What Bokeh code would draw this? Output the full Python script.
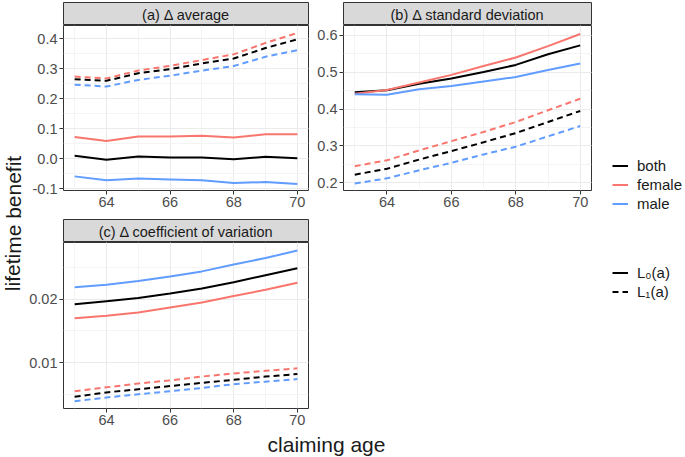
from bokeh.plotting import figure
from bokeh.models import (Range1d, SingleIntervalTicker, PrintfTickFormatter, Legend,
                          LegendItem, GridPlot)
from bokeh.layouts import row, column
from bokeh.core.properties import value
from bokeh.embed import file_html
from bokeh.resources import INLINE

FONT = "Liberation Sans"
NAN = float("nan")

# ---------------- data ----------------
ages = [63, 64, 65, 66, 67, 68, 69, 70]
groups = ["both", "female", "male"]
group_colors = ["#000000", "#F8766D", "#619CFF"]
ltype_labels = ["L\u2080(a)", "L\u2081(a)"]
strip_labels = ["(a) \u0394 average", "(b) \u0394 standard deviation",
                "(c) \u0394 coefficient of variation"]
x_label = "claiming age"
y_label = "lifetime benefit"

avg_L0_both = [0.011, -0.003, 0.008, 0.005, 0.005, -0.001, 0.007, 0.002]
avg_L0_female = [0.073, 0.060, 0.075, 0.075, 0.077, 0.071, 0.082, 0.082]
avg_L0_male = [-0.058, -0.071, -0.065, -0.068, -0.071, -0.080, -0.077, -0.083]
avg_L1_both = [0.265, 0.260, 0.285, 0.299, 0.318, 0.334, 0.369, 0.398]
avg_L1_female = [0.274, 0.268, 0.294, 0.310, 0.329, 0.348, 0.386, 0.419]
avg_L1_male = [0.247, 0.241, 0.263, 0.277, 0.294, 0.309, 0.340, 0.362]

sd_L0_both = [0.446, 0.451, 0.469, 0.483, 0.501, 0.520, 0.549, 0.573]
sd_L0_female = [0.442, 0.452, 0.472, 0.493, 0.517, 0.540, 0.571, 0.604]
sd_L0_male = [0.440, 0.439, 0.454, 0.463, 0.475, 0.487, 0.506, 0.524]
sd_L1_both = [0.222, 0.238, 0.263, 0.286, 0.310, 0.335, 0.365, 0.395]
sd_L1_female = [0.245, 0.261, 0.288, 0.313, 0.338, 0.365, 0.397, 0.428]
sd_L1_male = [0.198, 0.212, 0.234, 0.254, 0.277, 0.298, 0.326, 0.354]

cv_L0_both = [0.0192, 0.0197, 0.0202, 0.0209, 0.0217, 0.0227, 0.0238, 0.0249]
cv_L0_female = [0.0170, 0.0174, 0.0179, 0.0187, 0.0195, 0.0205, 0.0215, 0.0226]
cv_L0_male = [0.0219, 0.0223, 0.0229, 0.0236, 0.0244, 0.0255, 0.0265, 0.0277]
cv_L1_both = [0.0046, 0.0053, 0.0058, 0.0063, 0.0068, 0.0073, 0.0078, 0.0082]
cv_L1_female = [0.0055, 0.0061, 0.0067, 0.0072, 0.0078, 0.0083, 0.0087, 0.0091]
cv_L1_male = [0.0039, 0.0045, 0.0050, 0.0055, 0.0060, 0.0066, 0.0070, 0.0074]

# ---------------- layout constants ----------------
W0, W1, W2, W3 = 26, 288, 286, 84
STRIP_H = 25
ROW1_H, ROW3_H = 192, 190
XLAB_H = 24
TOTAL_H = STRIP_H + ROW1_H + STRIP_H + ROW3_H + XLAB_H
L1_LEFT, L1_RIGHT = 35, 6
L2_LEFT, L2_RIGHT = 29, 9
DASH = "6 4"
LW = 2


def panel(width, mbl, mbr, height, mbb, yr, yint, fmt):
    p = figure(width=width, height=height, x_range=Range1d(62.65, 70.35),
               y_range=Range1d(*yr), output_backend="svg", toolbar_location=None,
               min_border_left=mbl, min_border_right=mbr, min_border_top=0,
               min_border_bottom=mbb)
    p.outline_line_color = "#333333"
    p.outline_line_width = 1
    xt = SingleIntervalTicker(interval=2, num_minor_ticks=2)
    yt = SingleIntervalTicker(interval=yint, num_minor_ticks=2)
    p.xaxis.ticker = xt
    p.yaxis.ticker = yt
    p.xgrid.ticker = xt
    p.ygrid.ticker = yt
    p.yaxis.formatter = PrintfTickFormatter(format=fmt)
    for ax in (p.xaxis, p.yaxis):
        ax.axis_line_color = None
        ax.major_tick_line_color = "#333333"
        ax.major_tick_out = 4
        ax.major_tick_in = 0
        ax.minor_tick_line_color = None
        ax.major_label_standoff = 2
        ax.major_label_text_font = FONT
        ax.major_label_text_font_size = "14.5px"
        ax.major_label_text_color = "#4D4D4D"
    for g in (p.xgrid, p.ygrid):
        g.grid_line_color = "#EBEBEB"
        g.grid_line_width = 1.1
        g.minor_grid_line_color = "#F3F3F3"
        g.minor_grid_line_width = 0.9
    return p


def strip(text, width, mbl, mbr):
    s = figure(width=width, height=STRIP_H, x_range=Range1d(0, 1), y_range=Range1d(0, 1),
               x_axis_type=None, y_axis_type=None, output_backend="svg",
               toolbar_location=None, min_border_left=mbl, min_border_right=mbr,
               min_border_top=2, min_border_bottom=0)
    s.background_fill_color = "#D9D9D9"
    s.outline_line_color = "#333333"
    s.text(x=[0.5], y=[0.47], text=[text], text_align="center", text_baseline="middle",
           text_font=value(FONT), text_font_size="14.5px", text_color="#1A1A1A")
    return s


def draw(p, l0, l1):
    for ys, c in zip(l0, group_colors):
        p.line(ages, ys, line_color=c, line_width=LW)
    for ys, c in zip(l1, group_colors):
        p.line(ages, ys, line_color=c, line_width=LW, line_dash=DASH)


fa = panel(W1, L1_LEFT, L1_RIGHT, ROW1_H, 27, (-0.105, 0.444), 0.1, "%.1f")
draw(fa, [avg_L0_both, avg_L0_female, avg_L0_male], [avg_L1_both, avg_L1_female, avg_L1_male])
fb = panel(W2, L2_LEFT, L2_RIGHT, ROW1_H, 27, (0.179, 0.627), 0.1, "%.1f")
draw(fb, [sd_L0_both, sd_L0_female, sd_L0_male], [sd_L1_both, sd_L1_female, sd_L1_male])
fc = panel(W1, L1_LEFT, L1_RIGHT, ROW3_H, 24, (0.00276, 0.02896), 0.01, "%.2f")
draw(fc, [cv_L0_both, cv_L0_female, cv_L0_male], [cv_L1_both, cv_L1_female, cv_L1_male])

sa = strip(strip_labels[0], W1, L1_LEFT, L1_RIGHT)
sb = strip(strip_labels[1], W2, L2_LEFT, L2_RIGHT)
sc = strip(strip_labels[2], W1, L1_LEFT, L1_RIGHT)

inner = GridPlot(children=[(sa, 0, 0), (sb, 0, 1), (fa, 1, 0), (fb, 1, 1),
                           (sc, 2, 0), (fc, 3, 0)],
                 toolbar_location=None, spacing=0)

# y label column
fy = figure(width=W0, height=TOTAL_H, x_range=Range1d(0, W0), y_range=Range1d(0, TOTAL_H),
            x_axis_type=None, y_axis_type=None, output_backend="svg", toolbar_location=None,
            min_border=0)
fy.outline_line_color = None
fy.text(x=[12.5], y=[TOTAL_H - 223], text=[y_label], angle=1.5707963, text_align="center",
        text_baseline="middle", text_font=value(FONT), text_font_size="21px",
        text_color="#1A1A1A")

# x label row (under the panels)
XW = W1 + W2
fx = figure(width=XW, height=XLAB_H, x_range=Range1d(0, XW), y_range=Range1d(0, XLAB_H),
            x_axis_type=None, y_axis_type=None, output_backend="svg", toolbar_location=None,
            min_border=0)
fx.outline_line_color = None
fx.text(x=[326 - W0], y=[XLAB_H / 2], text=[x_label], text_align="center",
        text_baseline="middle", text_font=value(FONT), text_font_size="21px",
        text_color="#1A1A1A")

# legend column
fl = figure(width=W3, height=TOTAL_H, x_range=Range1d(0, 1), y_range=Range1d(0, 1),
            x_axis_type=None, y_axis_type=None, output_backend="svg", toolbar_location=None,
            min_border=0)
fl.outline_line_color = None
grp_items = []
for g, c in zip(groups, group_colors):
    r = fl.line(x=[NAN], y=[NAN], line_color=c, line_width=LW)
    grp_items.append(LegendItem(label=g, renderers=[r]))
lt_items = []
for lab, dash in zip(ltype_labels, ["solid", DASH]):
    r = fl.line(x=[NAN], y=[NAN], line_color="#000000", line_width=LW, line_dash=dash)
    lt_items.append(LegendItem(label=lab, renderers=[r]))


def mk_legend(items, loc):
    lg = Legend(items=items, location=loc)
    lg.border_line_color = None
    lg.background_fill_alpha = 0
    lg.padding = 0
    lg.margin = 0
    lg.spacing = 2
    lg.glyph_width = 16
    lg.glyph_height = 17
    lg.label_height = 17
    lg.label_standoff = 9
    lg.label_text_font = FONT
    lg.label_text_font_size = "15px"
    lg.label_text_color = "#1A1A1A"
    lg.label_text_baseline = "middle"
    return lg


fl.add_layout(mk_legend(grp_items, (12, TOTAL_H - 212)))
fl.add_layout(mk_legend(lt_items, (12, TOTAL_H - 300)))

layout = row(fy, column(inner, fx, spacing=0), fl, spacing=0)

open("out.html", "w").write(file_html(layout, INLINE))
